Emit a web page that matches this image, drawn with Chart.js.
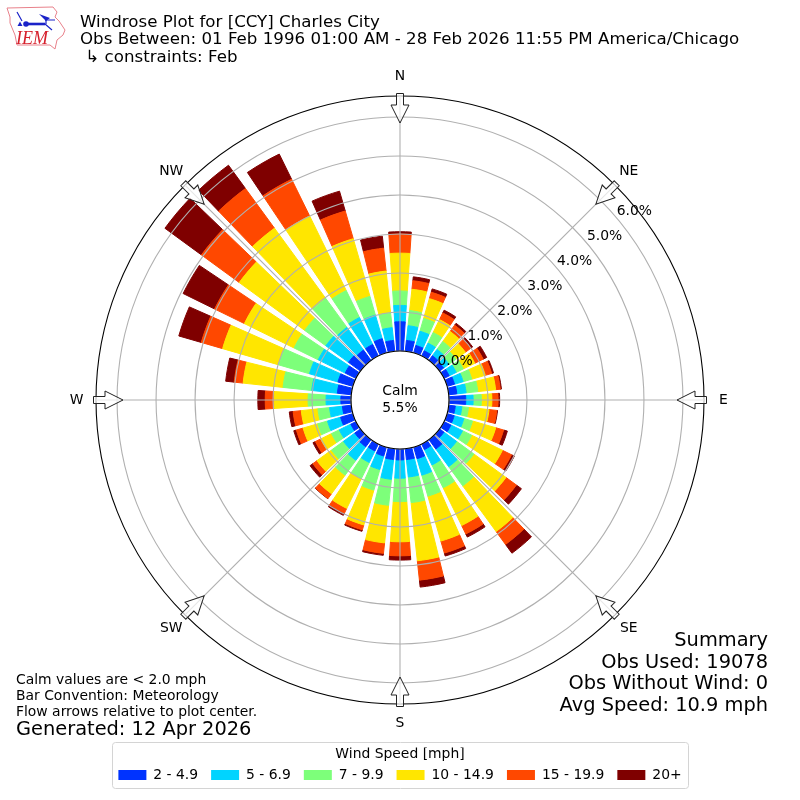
<!DOCTYPE html>
<html>
<head>
<meta charset="utf-8">
<style>html,body{margin:0;padding:0;background:#fff}#wrap{width:800px;height:800px}</style>
<script src="https://cdn.jsdelivr.net/npm/chart.js@4/dist/chart.umd.min.js"></script>
</head>
<body>
<div id="wrap"><canvas id="c" width="800" height="800"></canvas></div>
<script>
const directions = [10,20,30,40,50,60,70,80,90,100,110,120,130,140,150,160,170,180,190,200,210,220,230,240,250,260,270,280,290,300,310,320,330,340,350,360];
const band2to5   = [.28,.2,.15,.15,.13,.15,.2,.21,.43,.17,.19,.2,.14,.3,.16,.31,.28,.28,.28,.24,.2,.23,.18,.15,.33,.23,.26,.36,.4,.31,.38,.33,.33,.38,.28,.75];
const band5to7   = [.38,.38,.22,.2,.17,.2,.23,.24,.19,.17,.26,.33,.4,.56,.44,.44,.45,.47,.51,.36,.33,.43,.36,.33,.35,.33,.38,.66,.76,.77,.72,.72,.77,.63,.33,.42];
const band7to10  = [.39,.34,.3,.25,.22,.2,.23,.3,.21,.17,.23,.26,.55,.61,.65,.56,.66,.6,.67,.55,.46,.47,.38,.22,.26,.3,.46,.74,.82,.69,.67,.92,.77,.5,.38,.37];
const band10to15 = [.55,.53,.37,.32,.3,.33,.36,.46,.27,.53,.62,.88,1.02,1.45,1.08,1.2,1.5,1.03,.97,.93,.85,.59,.46,.31,.39,.43,.87,1.03,1.5,1.42,2.08,2.23,2.13,1.54,1.08,.97];
const band15to20 = [.22,.17,.19,.2,.17,.24,.17,.12,.16,.2,.21,.26,.33,.41,.24,.32,.5,.36,.27,.13,.14,.15,.13,.15,.18,.21,.23,.23,.57,.85,1.2,1.26,1.05,.74,.59,.49];
const band20plus = [.1,.09,.08,.06,.06,.1,.05,.03,.04,.02,.1,.08,.16,.28,.09,.08,.18,.11,.05,.04,.06,.01,.09,.07,.07,.1,.19,.22,.6,.9,1.16,.74,.72,.53,.31,.06];
const bandLabels = ['2 - 4.9','5 - 6.9','7 - 9.9','10 - 14.9','15 - 19.9','20+'];
const bandColors = ['#0033ff','#00d4ff','#7dff7a','#ffe600','#ff4800','#7f0000'];
const compass = ['N','NE','E','SE','S','SW','W','NW'];
const tickValues = [0,1,2,3,4,5,6];
const rMin = -1.256, rMax = 6.54;
const titleLines = ['Windrose Plot for [CCY] Charles City','Obs Between: 01 Feb 1996 01:00 AM - 28 Feb 2026 11:55 PM America/Chicago',' \u21b3 constraints: Feb'];
const summaryLines = ['Summary','Obs Used: 19078','Obs Without Wind: 0','Avg Speed: 10.9 mph'];
const noteLines = ['Calm values are < 2.0 mph','Bar Convention: Meteorology','Flow arrows relative to plot center.'];
const generatedLine = 'Generated: 12 Apr 2026';
const calmLines = ['Calm','5.5%'];

const FONT = '"DejaVu Sans"';
Chart.defaults.font.family = FONT;
Chart.defaults.color = '#000';
const BAR_WIDTH = 7.7 * Math.PI / 180;
const LABEL_BEARING = 50 * Math.PI / 180;

class WindRoseController extends Chart.PolarAreaController {
  updateElements(arcs, start, count, mode) {
    const scale = this._cachedMeta.rScale;
    const datasets = this.chart.data.datasets;
    for (let i = start; i < start + count; i++) {
      let base = 0;
      for (let d = 0; d < this.index; d++) base += datasets[d].data[i];
      const value = datasets[this.index].data[i];
      const mid = directions[i] * Math.PI / 180 - Math.PI / 2;
      this.updateElement(arcs[i], i, {
        x: scale.xCenter, y: scale.yCenter,
        innerRadius: scale.getDistanceFromCenterForValue(base),
        outerRadius: scale.getDistanceFromCenterForValue(base + value),
        startAngle: mid - BAR_WIDTH / 2,
        endAngle: mid + BAR_WIDTH / 2,
        circumference: BAR_WIDTH,
        options: this.resolveDataElementOptions(i, mode)
      }, mode);
    }
  }
}
WindRoseController.id = 'windRose';
WindRoseController.defaults = Chart.PolarAreaController.defaults;
WindRoseController.overrides = Chart.PolarAreaController.overrides;
Chart.register(WindRoseController);

function text(ctx, str, x, y, size, align) {
  ctx.font = size + 'px ' + FONT;
  ctx.textAlign = align || 'left';
  ctx.textBaseline = 'middle';
  ctx.fillStyle = '#000';
  ctx.fillText(str, x, y);
}

function drawLogo(ctx) {
  ctx.save();
  ctx.lineJoin = 'round';
  ctx.strokeStyle = '#e8808a';
  ctx.lineWidth = 1;
  ctx.beginPath();
  [[7,8],[53,7],[57,12],[55,17],[59,21],[65,30],[63,35],[57,40],[55,49],[50,45],[17,45],[15,35],[10,23],[10,17]].forEach((p,i)=>i?ctx.lineTo(p[0],p[1]):ctx.moveTo(p[0],p[1]));
  ctx.closePath();
  ctx.stroke();
  ctx.strokeStyle = '#1a22c8';
  ctx.fillStyle = '#1a22c8';
  ctx.lineWidth = 2.6;
  ctx.beginPath(); ctx.moveTo(25,24); ctx.lineTo(45,24); ctx.stroke();
  ctx.lineWidth = 1.2;
  ctx.beginPath(); ctx.moveTo(45,20); ctx.lineTo(55,20); ctx.moveTo(46,20); ctx.lineTo(46,24); ctx.moveTo(45,24); ctx.lineTo(52,30); ctx.moveTo(17,12); ctx.lineTo(22,21); ctx.stroke();
  ctx.beginPath(); ctx.arc(26,24,2.8,0,7); ctx.fill();
  ctx.beginPath(); ctx.moveTo(39,14); ctx.lineTo(50,18); ctx.lineTo(46,21); ctx.closePath(); ctx.fill();
  ctx.beginPath(); ctx.moveTo(20,21.5); ctx.lineTo(22.5,26); ctx.lineTo(17.5,26); ctx.closePath(); ctx.fill();
  ctx.fillStyle = '#d6202c';
  ctx.font = 'italic 18px "Liberation Serif"';
  ctx.textAlign = 'left';
  ctx.textBaseline = 'alphabetic';
  ctx.fillText('IEM', 16, 44);
  ctx.restore();
}

const annotate = {
  id: 'annotate',
  afterLayout(chart) {
    // the title may run past the symmetric padding that centres the legend
    chart.titleBlock.right = chart.width - 10;
  },
  afterDraw(chart) {
    const ctx = chart.ctx, s = chart.scales.r;
    const cx = s.xCenter, cy = s.yCenter, R = s.drawingArea;
    ctx.save();
    // Calm hub
    const hub = s.getDistanceFromCenterForValue(0);
    ctx.beginPath(); ctx.arc(cx, cy, hub, 0, Math.PI * 2);
    ctx.fillStyle = '#fff'; ctx.fill();
    ctx.strokeStyle = '#000'; ctx.lineWidth = 1.1; ctx.stroke();
    text(ctx, calmLines[0], cx, cy - 8.5, 13.9, 'center');
    text(ctx, calmLines[1], cx, cy + 8, 13.9, 'center');
    // Percent labels along the label radial
    tickValues.forEach(v => {
      const d = s.getDistanceFromCenterForValue(v);
      text(ctx, v.toFixed(1) + '%', cx + d * Math.sin(LABEL_BEARING), cy - d * Math.cos(LABEL_BEARING) - 7, 13.9, 'left');
    });
    // Compass labels and flow arrows
    compass.forEach((name, i) => {
      const p = s.getPointPosition(i, R + 19.5);
      text(ctx, name, p.x, p.y, 13.9, 'center');
      ctx.save();
      ctx.translate(cx, cy);
      ctx.rotate(s.getIndexAngle(i));
      ctx.beginPath();
      const pts = [[-3.5,-R-2.5],[3.5,-R-2.5],[3.5,-R+9],[9,-R+9],[0,-R+27],[-9,-R+9],[-3.5,-R+9]];
      pts.forEach((q,k)=>k?ctx.lineTo(q[0],q[1]):ctx.moveTo(q[0],q[1]));
      ctx.closePath();
      ctx.fillStyle = 'rgba(255,255,255,0.7)'; ctx.fill();
      ctx.strokeStyle = '#222'; ctx.lineWidth = 1; ctx.stroke();
      ctx.restore();
    });
    // Summary, notes
    summaryLines.forEach((t, i) => text(ctx, t, 768, 641 + i * 21.7, 19.4, 'right'));
    noteLines.forEach((t, i) => text(ctx, t, 16, 680 + i * 16, 13.9, 'left'));
    text(ctx, generatedLine, 16, 730, 19.4, 'left');
    // Legend frame
    ctx.beginPath();
    ctx.roundRect(112.5, 742.5, 576, 46, 3);
    ctx.strokeStyle = '#d4d4d4'; ctx.lineWidth = 1; ctx.stroke();
    drawLogo(ctx);
    ctx.restore();
  }
};

const values = [band2to5, band5to7, band7to10, band10to15, band15to20, band20plus];
const canvas = document.getElementById('c');
canvas.getContext('2d').textRendering = 'geometricPrecision';
new Chart(canvas, {
  type: 'windRose',
  data: {
    labels: directions.map(String),
    datasets: values.map((data, i) => ({
      label: bandLabels[i], data,
      backgroundColor: bandColors[i], borderColor: bandColors[i], borderWidth: 1
    }))
  },
  options: {
    responsive: false,
    animation: false,
    events: [],
    layout: { padding: { top: 13.5, left: 80, right: 80, bottom: 8 } },
    scales: {
      r: {
        type: 'radialLinear',
        labels: compass,
        min: rMin, max: rMax,
        startAngle: 0,
        afterBuildTicks(scale) { scale.ticks = tickValues.concat([rMax]).map(v => ({ value: v })); },
        afterFit(scale) { scale.xCenter = 400; scale.yCenter = 400; scale.drawingArea = 304; },
        ticks: { display: false },
        pointLabels: { display: false },
        angleLines: { display: true, color: '#b0b0b0', lineWidth: 1.1 },
        grid: {
          z: 1, circular: true, lineWidth: 1.1,
          color: c => (c.tick && c.tick.value === rMax ? '#000' : '#b0b0b0')
        }
      }
    },
    plugins: {
      tooltip: { enabled: false },
      title: {
        display: true, text: titleLines, align: 'start',
        font: { size: 16.67, weight: 'normal', lineHeight: 1.05 },
        padding: { top: 0, bottom: 6 }
      },
      legend: {
        position: 'bottom', align: 'center',
        title: { display: true, text: 'Wind Speed [mph]', font: { size: 13.9 }, padding: { top: 0, bottom: -9 } },
        labels: {
          font: { size: 13.9 }, boxWidth: 28, boxHeight: 10, padding: 13,
          generateLabels: chart => chart.data.datasets.map((d, i) => ({
            text: d.label, fillStyle: d.backgroundColor, strokeStyle: d.backgroundColor, lineWidth: 0, datasetIndex: i, hidden: false
          }))
        }
      }
    }
  },
  plugins: [annotate]
});
</script>
</body>
</html>
